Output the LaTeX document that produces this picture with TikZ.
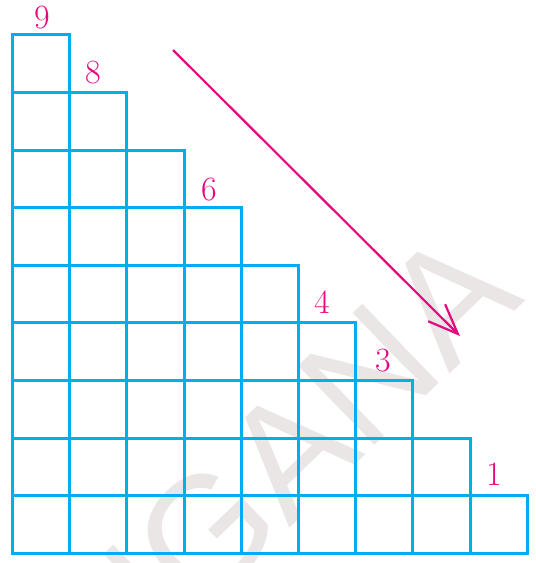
\documentclass[tikz,border=0pt]{standalone}
\usepackage{fontspec}
\newfontfamily\wmfont{Liberation Sans}
\usetikzlibrary{arrows.meta}
\definecolor{gridblue}{HTML}{00AEEF}
\definecolor{numpink}{HTML}{E5097F}
\definecolor{wmgray}{HTML}{EAE6E6}
\begin{document}
\begin{tikzpicture}[x=1pt,y=-1pt,
  cell/.style={draw=gridblue,line width=3pt},
  num/.style={text=numpink,font=\fontsize{34}{38}\selectfont,anchor=base,inner sep=0pt},
  arrowline/.style={draw=numpink,line width=2.2pt,-{Straight Barb[length=30pt,width=24pt,line width=2.2pt]}},
  watermark/.style={rotate=44,anchor=base east,inner sep=0pt,text=wmgray,font=\wmfont\fontsize{160}{160}\selectfont}]
\useasboundingbox (0,0) rectangle (536,563);
\begin{scope}
  \clip (0,0) rectangle (536,563);
  \node[watermark] (wm) at (526,300) {TELANGANA};
\end{scope}
\foreach \i in {0,...,8}{
  \pgfmathtruncatemacro\n{8-\i}
  \foreach \j in {0,...,\n}{
    \draw[cell] ({12.5+57.2*\i},{553.3-57.6*\j}) rectangle ++(57.2,-57.6);
  }
}
\node[num] (l9) at (42,28) {9};
\node[num] (l8) at (93,83) {8};
\node[num] (l6) at (209,200) {6};
\node[num] (l4) at (322,313) {4};
\node[num] (l3) at (383,371.5) {3};
\node[num] (l1) at (494,485.5) {1};
\coordinate (astart) at (173,50);
\coordinate (aend) at (460,336);
\draw[arrowline] (astart) -- (aend);
\end{tikzpicture}
\end{document}
